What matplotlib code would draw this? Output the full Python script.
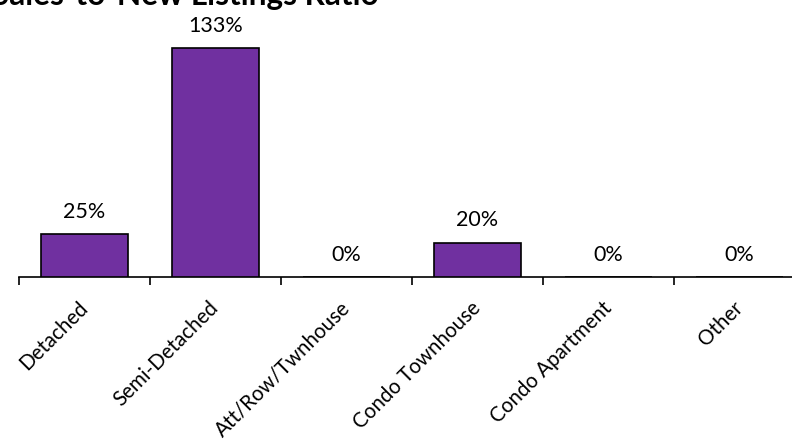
import matplotlib
matplotlib.use("Agg")
import matplotlib.pyplot as plt

categories = ["Detached", "Semi-Detached", "Att/Row/Twnhouse", "Condo Townhouse", "Condo Apartment", "Other"]
values = [25, 133, 0, 20, 0, 0]
title = "Sales-to-New Listings Ratio"

plt.rcParams['font.family'] = ['Lato', 'DejaVu Sans']

W, H = 792, 443
fig = plt.figure(figsize=(W/100, H/100), dpi=100)
ax = fig.add_axes([19/W, (H-277)/H, (W-19)/W, 277/H])

x = list(range(len(categories)))
ax.bar(x, values, width=0.66, color="#7030A0", edgecolor="black", linewidth=1.2, zorder=3)

for xi, v in zip(x, values):
    ax.annotate(f"{v}%", (xi, v), xytext=(0, 16), textcoords="offset points",
                ha="center", va="center", fontsize=15.5)

ax.set_xticks([i - 0.5 for i in range(len(categories) + 1)])
ax.set_xticklabels([])
ax.tick_params(axis="x", which="major", length=6, width=1.2, direction="out", color="black")
ax.set_xticks(x, minor=True)
ax.set_xticklabels(categories, minor=True, rotation=45, ha="right", va="center",
                   rotation_mode="anchor", fontsize=14.8)
ax.tick_params(axis="x", which="minor", length=0, pad=20)

ax.set_xlim(-0.5, -0.5 + (W-19)/131)
ax.set_ylim(0, 277/1.72)

ax.set_yticks([])
for s in ["left", "top", "right"]:
    ax.spines[s].set_visible(False)
ax.spines["bottom"].set_linewidth(1.2)

fig.text(-8/W, 1 - 5/H, title, fontsize=22.7, fontweight="bold", ha="left", va="baseline")

fig.savefig("out.png", dpi=100)
